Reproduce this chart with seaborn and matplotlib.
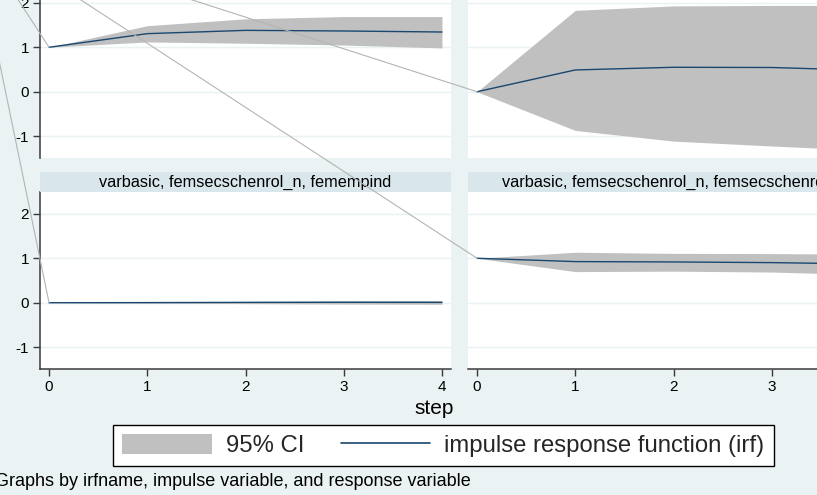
import numpy as np
import pandas as pd
import matplotlib
matplotlib.use("Agg")
import matplotlib.pyplot as plt
import seaborn as sns
from matplotlib.patches import Patch, Rectangle, ConnectionPatch
from matplotlib.lines import Line2D

# ---- impulse response estimates (step 0..4) ----
steps = [0, 1, 2, 3, 4]

tl_irf = [1.0, 1.306, 1.38, 1.366, 1.343]
tl_lo = [1.0, 1.12, 1.09, 1.05, 0.985]
tl_hi = [1.0, 1.485, 1.64, 1.69, 1.69]

tr_irf = [0.0, 0.49, 0.55, 0.545, 0.48]
tr_lo = [0.0, -0.87, -1.11, -1.22, -1.32]
tr_hi = [0.0, 1.83, 1.93, 1.94, 1.94]

bl_irf = [0.0, 0.003, 0.008, 0.010, 0.008]
bl_lo = [0.0, -0.010, -0.020, -0.030, -0.035]
bl_hi = [0.0, 0.012, 0.030, 0.045, 0.050]

br_irf = [1.0, 0.925, 0.917, 0.902, 0.87]
br_lo = [1.0, 0.70, 0.71, 0.69, 0.63]
br_hi = [1.0, 1.135, 1.11, 1.105, 1.09]

bottom_titles = ["varbasic, femsecschenrol_n, femempind",
                 "varbasic, femsecschenrol_n, femsecschenrol_n"]
y_ticks = [-1, 0, 1, 2]
x_ticks = [0, 1, 2, 3, 4]

panels = {
    "tl": (tl_irf, tl_lo, tl_hi),
    "tr": (tr_irf, tr_lo, tr_hi),
    "bl": (bl_irf, bl_lo, bl_hi),
    "br": (br_irf, br_lo, br_hi),
}
frames = []
for key, (irf, lo, hi) in panels.items():
    frames.append(pd.DataFrame({"panel": key, "step": steps,
                                "irf": irf, "lo": lo, "hi": hi}))
df = pd.concat(frames, ignore_index=True)

# ---- styling (Stata s2color look) ----
BG = "#eaf2f3"
STRIP = "#d9e6eb"
NAVY = "#1a476f"
CI = "#c0c0c0"

sns.set_style("white")
plt.rcParams["font.family"] = ["Liberation Sans", "DejaVu Sans"]
plt.rcParams["axes.unicode_minus"] = False

W, H = 817, 495
fig = plt.figure(figsize=(W / 100, H / 100), dpi=100, facecolor=BG)

def rect(left, top, width, height):
    return [left / W, 1 - (top + height) / H, width / W, height / H]

pw, ph = 411, 177
layout = {
    "tl": rect(40, -19, pw, ph),
    "tr": rect(468, -19, pw, ph),
    "bl": rect(40, 192, pw, ph),
    "br": rect(468, 192, pw, ph),
}

axes = {}
for key, pos in layout.items():
    ax = fig.add_axes(pos)
    axes[key] = ax
    sub = df[df["panel"] == key]
    ax.set_facecolor("white")
    ax.fill_between(sub["step"], sub["lo"], sub["hi"], color=CI,
                    linewidth=0, zorder=1)
    sns.lineplot(data=sub, x="step", y="irf", ax=ax, color=NAVY,
                 linewidth=1.0, zorder=2, legend=False)
    ax.set_xlim(-0.092, 4.092)
    ax.set_ylim(-1.49, 2.49)
    ax.set_yticks(y_ticks)
    ax.set_xticks(x_ticks)
    ax.yaxis.grid(True, color=BG, linewidth=1.0, zorder=0)
    ax.xaxis.grid(False)
    ax.set_axisbelow(True)
    ax.set_xlabel("")
    ax.set_ylabel("")
    for s in ["top", "right"]:
        ax.spines[s].set_visible(False)
    left_col = key.endswith("l")
    bottom_row = key.startswith("b")
    ax.spines["left"].set_visible(left_col)
    ax.spines["bottom"].set_visible(bottom_row)
    ax.spines["left"].set_color("#3a3a3a")
    ax.spines["bottom"].set_color("#3a3a3a")
    ax.spines["left"].set_linewidth(1.1)
    ax.spines["bottom"].set_linewidth(1.1)
    ax.tick_params(axis="y", left=left_col, labelleft=left_col,
                   length=5, width=1, color="#3a3a3a", pad=3,
                   labelsize=11, labelcolor="black")
    ax.tick_params(axis="x", bottom=bottom_row, labelbottom=bottom_row,
                   length=5, width=1, color="#3a3a3a", pad=3,
                   labelsize=11, labelcolor="black")

# panel title strips on the bottom row
strip_h = 20 / ph
for key, title in zip(["bl", "br"], bottom_titles):
    ax = axes[key]
    ax.add_patch(Rectangle((0, 1), 1, strip_h, transform=ax.transAxes,
                           facecolor=STRIP, edgecolor="none",
                           clip_on=False, zorder=3))
    ax.text(0.5, 1 + strip_h / 2, title, transform=ax.transAxes,
            ha="center", va="center", fontsize=11.7, color="black",
            clip_on=False, zorder=4)

# thin guide lines converging on each panel's step-0 response
origin = (-28 / W, 1 + 71 / H)
for key in ["tl", "tr", "bl", "br"]:
    irf0 = panels[key][0][0]
    con = ConnectionPatch(xyA=origin, coordsA="figure fraction",
                          xyB=(steps[0], irf0), coordsB=axes[key].transData,
                          color="#b4b4b4", linewidth=0.8, zorder=6)
    fig.add_artist(con)

# common x title
fig.text(434 / W, 1 - 409 / H, "step", ha="center", va="center",
         fontsize=15, color="black")

# legend
handles = [Patch(facecolor=CI, edgecolor="none", label="95% CI"),
           Line2D([0], [0], color=NAVY, linewidth=1.2,
                  label="impulse response function (irf)")]
leg = fig.legend(handles=handles, loc="center", ncol=2,
                 bbox_to_anchor=(443.5 / W, 1 - 445.5 / H),
                 fontsize=17.2, frameon=True, fancybox=False,
                 handlelength=3.75, handleheight=0.95, handletextpad=0.6,
                 columnspacing=1.5, borderpad=0.38)
frame = leg.get_frame()
frame.set_edgecolor("black")
frame.set_linewidth(1.0)
frame.set_facecolor("white")
frame.set_alpha(1)

# note
fig.text(-5 / W, 1 - 481 / H,
         "Graphs by irfname, impulse variable, and response variable",
         ha="left", va="center", fontsize=13, color="black")

fig.savefig("out.png", dpi=100, facecolor=BG)
